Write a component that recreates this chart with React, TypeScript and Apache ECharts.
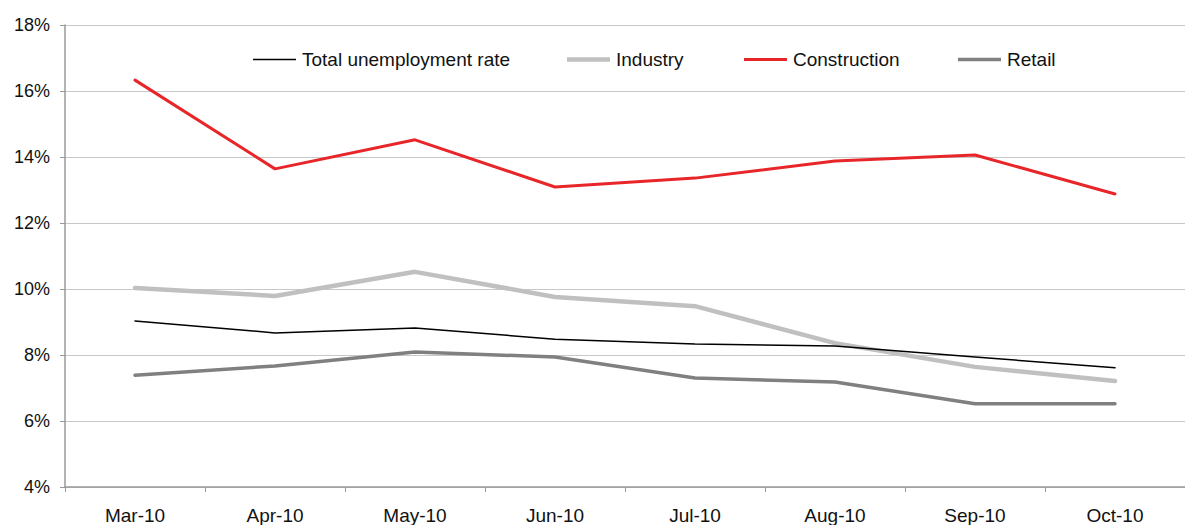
import React, { useEffect, useRef } from "react";
import * as echarts from "echarts";

const categories = ["Mar-10", "Apr-10", "May-10", "Jun-10", "Jul-10", "Aug-10", "Sep-10", "Oct-10"];
const totalRate = [9.03, 8.67, 8.82, 8.48, 8.33, 8.27, 7.94, 7.61];
const industry = [10.03, 9.79, 10.52, 9.76, 9.48, 8.36, 7.64, 7.21];
const construction = [16.33, 13.64, 14.52, 13.09, 13.36, 13.88, 14.06, 12.88];
const retail = [7.39, 7.67, 8.09, 7.94, 7.3, 7.18, 6.52, 6.52];

const seriesNames = ["Total unemployment rate", "Industry", "Construction", "Retail"];
const seriesColors = ["#000000", "#c0c0c0", "#e8262a", "#808080"];
const seriesWidths = [1.5, 4.5, 3, 3.5];
const seriesData = [totalRate, industry, construction, retail];
const legendLefts = [253, 567, 744, 958];

export default function App() {
  const ref = useRef<HTMLDivElement>(null);
  useEffect(() => {
    if (!ref.current) return;
    const chart = echarts.init(ref.current, null, { renderer: "svg" });
    const font = "Liberation Sans, Arial, sans-serif";
    chart.setOption({
      animation: false,
      textStyle: { fontFamily: font },
      grid: { left: 65, top: 25, width: 1136, height: 462, containLabel: false },
      legend: seriesNames.map((n, i) => ({
        data: [n],
        left: legendLefts[i],
        top: 50,
        icon: "rect",
        itemWidth: 43,
        itemHeight: seriesWidths[i],
        itemStyle: { color: seriesColors[i] },
        textStyle: { fontSize: 19, color: "#111", fontFamily: font, padding: [0, 0, 0, 1] },
        padding: 0,
      })),
      xAxis: {
        type: "category",
        data: categories,
        boundaryGap: true,
        axisLine: { lineStyle: { color: "#999999", width: 1.5 } },
        axisTick: { show: true, length: 5, lineStyle: { color: "#999999" } },
        axisLabel: { fontSize: 19, color: "#111", margin: 19, fontFamily: font },
      },
      yAxis: {
        type: "value",
        min: 4,
        max: 18,
        interval: 2,
        axisLine: { show: true, lineStyle: { color: "#999999", width: 1.5 } },
        axisTick: { show: true, length: 5, lineStyle: { color: "#999999" } },
        axisLabel: { fontSize: 18, color: "#111", margin: 15, formatter: (v: number) => v + "%", fontFamily: font },
        splitLine: { lineStyle: { color: "#c8c8c8", width: 1 } },
      },
      series: seriesNames.map((n, i) => ({
        name: n,
        type: "line",
        data: seriesData[i],
        symbol: "none",
        showSymbol: false,
        color: seriesColors[i],
        lineStyle: { color: seriesColors[i], width: seriesWidths[i], cap: "round" },
        z: i === 0 ? 5 : 2 + i,
      })),
    });
    return () => chart.dispose();
  }, []);
  return <div ref={ref} style={{ width: 1185, height: 525, position: "absolute", left: 0, top: 0 }} />;
}
